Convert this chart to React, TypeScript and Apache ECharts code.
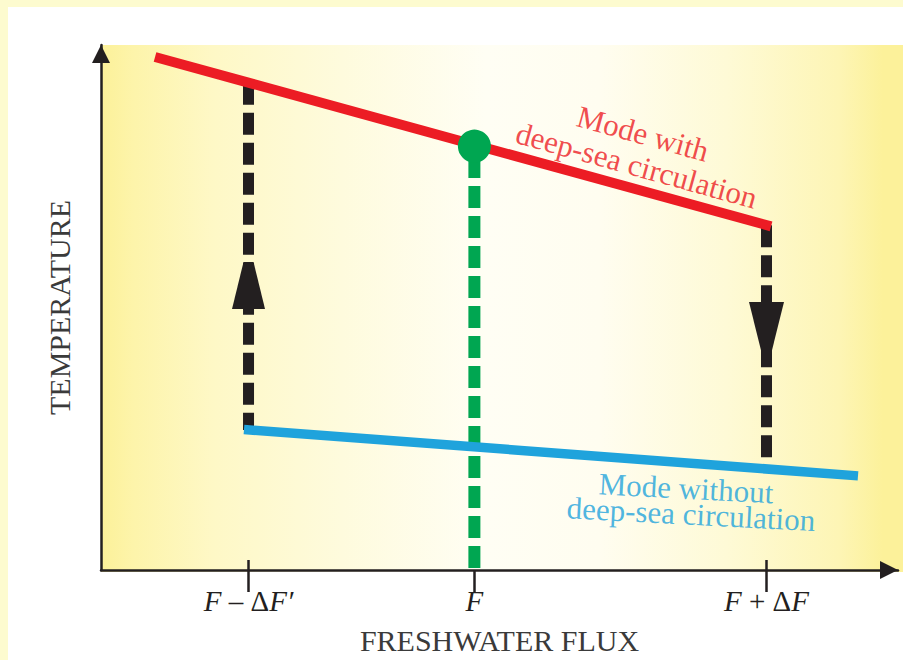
import React, { useEffect, useRef } from "react";
import * as echarts from "echarts";

// Freshwater flux positions (x, 0..100) and tick labels
const fluxTicks = [18.51, 46.85, 83.5];
const fluxTickLabels = ["{i|F} – {u|Δ}{i|F′}", "{i|F}", "{i|F} + {u|Δ}{i|F}"];
const fluxUpperTicks = [18.51, 83.5];

// Temperature branches (y, 0..100)
const withCirculation = [
  [6.78, 97.72],
  [84.07, 65.46],
];
const withoutCirculation = [
  [17.94, 26.76],
  [94.98, 17.93],
];

// Present state and its drop line
const equilibrium = [46.85, 80.74];
const equilibriumDrop = [
  [46.85, 0.38],
  [46.85, 80.74],
];

// Transitions between the modes
const jumpUp = [
  [18.51, 92.83],
  [18.51, 26.68],
];
const jumpDown = [
  [83.5, 65.69],
  [83.5, 19.24],
];
const arrowUp = [18.51, 54.17];
const arrowDown = [83.5, 46.39];

// Annotations
const withLabels = ["Mode with", "deep-sea circulation"];
const withLabelAnchors = [
  [68.0, 83.11],
  [67.2, 77.04],
];
const withoutLabels = ["Mode without", "deep-sea circulation"];
const withoutLabelAnchors = [
  [73.4, 15.56],
  [74.03, 10.63],
];

const SERIF = "'Liberation Serif', 'Times New Roman', serif";
const INK = "#231f20";
const RED = "#ec1c24";
const BLUE = "#1fa3dc";
const GREEN = "#00a651";

export default function App() {
  const ref = useRef<HTMLDivElement>(null);

  useEffect(() => {
    if (!ref.current) return;
    const chart = echarts.init(ref.current, undefined, { renderer: "svg" });

    const tickFormatter = (v: number) => {
      const i = fluxTicks.findIndex((t) => Math.abs(t - v) < 1e-6);
      return i >= 0 ? fluxTickLabels[i] : "";
    };

    const arrowPath = "path://M11.5,0 L21.5,0 L33,47 L0,47 Z";

    chart.setOption({
      animation: false,
      backgroundColor: "#fdfbcf",
      graphic: [
        {
          type: "rect",
          z: -20,
          silent: true,
          shape: { x: 8, y: 7, width: 900, height: 660 },
          style: { fill: "#ffffff" },
        },
        {
          type: "rect",
          z: -19,
          silent: true,
          shape: { x: 101, y: 45, width: 802, height: 527 },
          style: {
            fill: new echarts.graphic.LinearGradient(0, 0, 1, 0, [
              { offset: 0, color: "#fcf199" },
              { offset: 0.04, color: "#fdf4aa" },
              { offset: 0.14, color: "#fef8c6" },
              { offset: 0.3, color: "#fefbdd" },
              { offset: 0.48, color: "#fffef4" },
              { offset: 0.62, color: "#fffdf0" },
              { offset: 0.78, color: "#fefad6" },
              { offset: 0.92, color: "#fdf5b5" },
              { offset: 0.975, color: "#fcf19a" },
              { offset: 1, color: "#fcf19a" },
            ]),
          },
        },
      ],
      grid: { left: 101, right: 5, top: 45, bottom: 88, containLabel: false },
      xAxis: [
        {
          type: "value",
          min: 0,
          max: 100,
          position: "bottom",
          axisLine: {
            show: true,
            onZero: false,
            lineStyle: { color: INK, width: 2.5 },
            symbol: ["none", "triangle"],
            symbolSize: [18, 18],
            symbolOffset: [0, -9],
          },
          axisTick: {
            show: true,
            customValues: fluxTicks,
            length: 22,
            inside: false,
            lineStyle: { color: INK, width: 2.5 },
          },
          axisLabel: {
            show: true,
            customValues: fluxTicks,
            formatter: tickFormatter,
            margin: 16,
            fontFamily: SERIF,
            fontSize: 29,
            color: INK,
            rich: {
              i: { fontFamily: SERIF, fontStyle: "italic", fontSize: 29, color: INK },
              u: { fontFamily: SERIF, fontStyle: "normal", fontSize: 29, color: INK },
            },
          },
          splitLine: { show: false },
          name: "FRESHWATER FLUX",
          nameLocation: "middle",
          nameGap: 55,
          nameTextStyle: { fontFamily: SERIF, fontSize: 30, color: "#3a3a3a" },
        },
        {
          type: "value",
          min: 0,
          max: 100,
          position: "bottom",
          offset: 0,
          axisLine: { show: false, onZero: false },
          axisTick: {
            show: true,
            customValues: fluxUpperTicks,
            length: 10,
            inside: true,
            lineStyle: { color: INK, width: 2.5 },
          },
          axisLabel: { show: false },
          splitLine: { show: false },
        },
      ],
      yAxis: {
        type: "value",
        min: 0,
        max: 100,
        axisLine: {
          show: true,
          onZero: false,
          lineStyle: { color: INK, width: 2.5 },
          symbol: ["none", "triangle"],
          symbolSize: [18, 18],
          symbolOffset: [0, -9],
        },
        axisTick: { show: false },
        axisLabel: { show: false },
        splitLine: { show: false },
        name: "TEMPERATURE",
        nameLocation: "middle",
        nameGap: 27,
        nameTextStyle: { fontFamily: SERIF, fontSize: 30, color: "#3a3a3a" },
      },
      series: [
        {
          name: "equilibrium drop",
          type: "line",
          data: equilibriumDrop,
          symbol: "none",
          z: 2,
          lineStyle: { color: GREEN, width: 12, type: [22, 8], cap: "butt" },
        },
        {
          name: "jump up",
          type: "line",
          data: jumpUp,
          symbol: "none",
          z: 2,
          lineStyle: { color: INK, width: 11, type: [22, 8], cap: "butt" },
        },
        {
          name: "jump down",
          type: "line",
          data: jumpDown,
          symbol: "none",
          z: 2,
          lineStyle: { color: INK, width: 11, type: [22, 8], cap: "butt" },
        },
        {
          name: "Mode with deep-sea circulation",
          type: "line",
          data: withCirculation,
          symbol: "none",
          z: 4,
          lineStyle: { color: RED, width: 10, cap: "butt" },
        },
        {
          name: "Mode without deep-sea circulation",
          type: "line",
          data: withoutCirculation,
          symbol: "none",
          z: 4,
          lineStyle: { color: BLUE, width: 9.5, cap: "butt" },
        },
        {
          name: "arrows",
          type: "scatter",
          z: 5,
          data: [
            { value: arrowUp, symbol: arrowPath, symbolSize: [33, 47], symbolRotate: 0 },
            { value: arrowDown, symbol: arrowPath, symbolSize: [35, 49], symbolRotate: 180 },
          ],
          symbolKeepAspect: false,
          itemStyle: { color: INK, opacity: 1 },
        },
        {
          name: "equilibrium",
          type: "scatter",
          z: 6,
          data: [equilibrium],
          symbol: "circle",
          symbolSize: 33,
          itemStyle: { color: GREEN, opacity: 1 },
        },
        {
          name: "with labels",
          type: "scatter",
          z: 7,
          data: withLabelAnchors,
          symbolSize: 1,
          itemStyle: { color: "rgba(0,0,0,0)" },
          label: {
            show: true,
            position: "inside",
            rotate: -15.5,
            formatter: (p: any) => withLabels[p.dataIndex],
            fontFamily: SERIF,
            fontSize: 31,
            color: RED,
          },
        },
        {
          name: "without labels",
          type: "scatter",
          z: 7,
          data: withoutLabelAnchors,
          symbolSize: 1,
          itemStyle: { color: "rgba(0,0,0,0)" },
          label: {
            show: true,
            position: "inside",
            rotate: -3,
            formatter: (p: any) => withoutLabels[p.dataIndex],
            fontFamily: SERIF,
            fontSize: 31,
            color: BLUE,
          },
        },
      ],
    });

    return () => chart.dispose();
  }, []);

  return (
    <div
      ref={ref}
      style={{ position: "fixed", left: 0, top: 0, width: 903, height: 660 }}
    />
  );
}
